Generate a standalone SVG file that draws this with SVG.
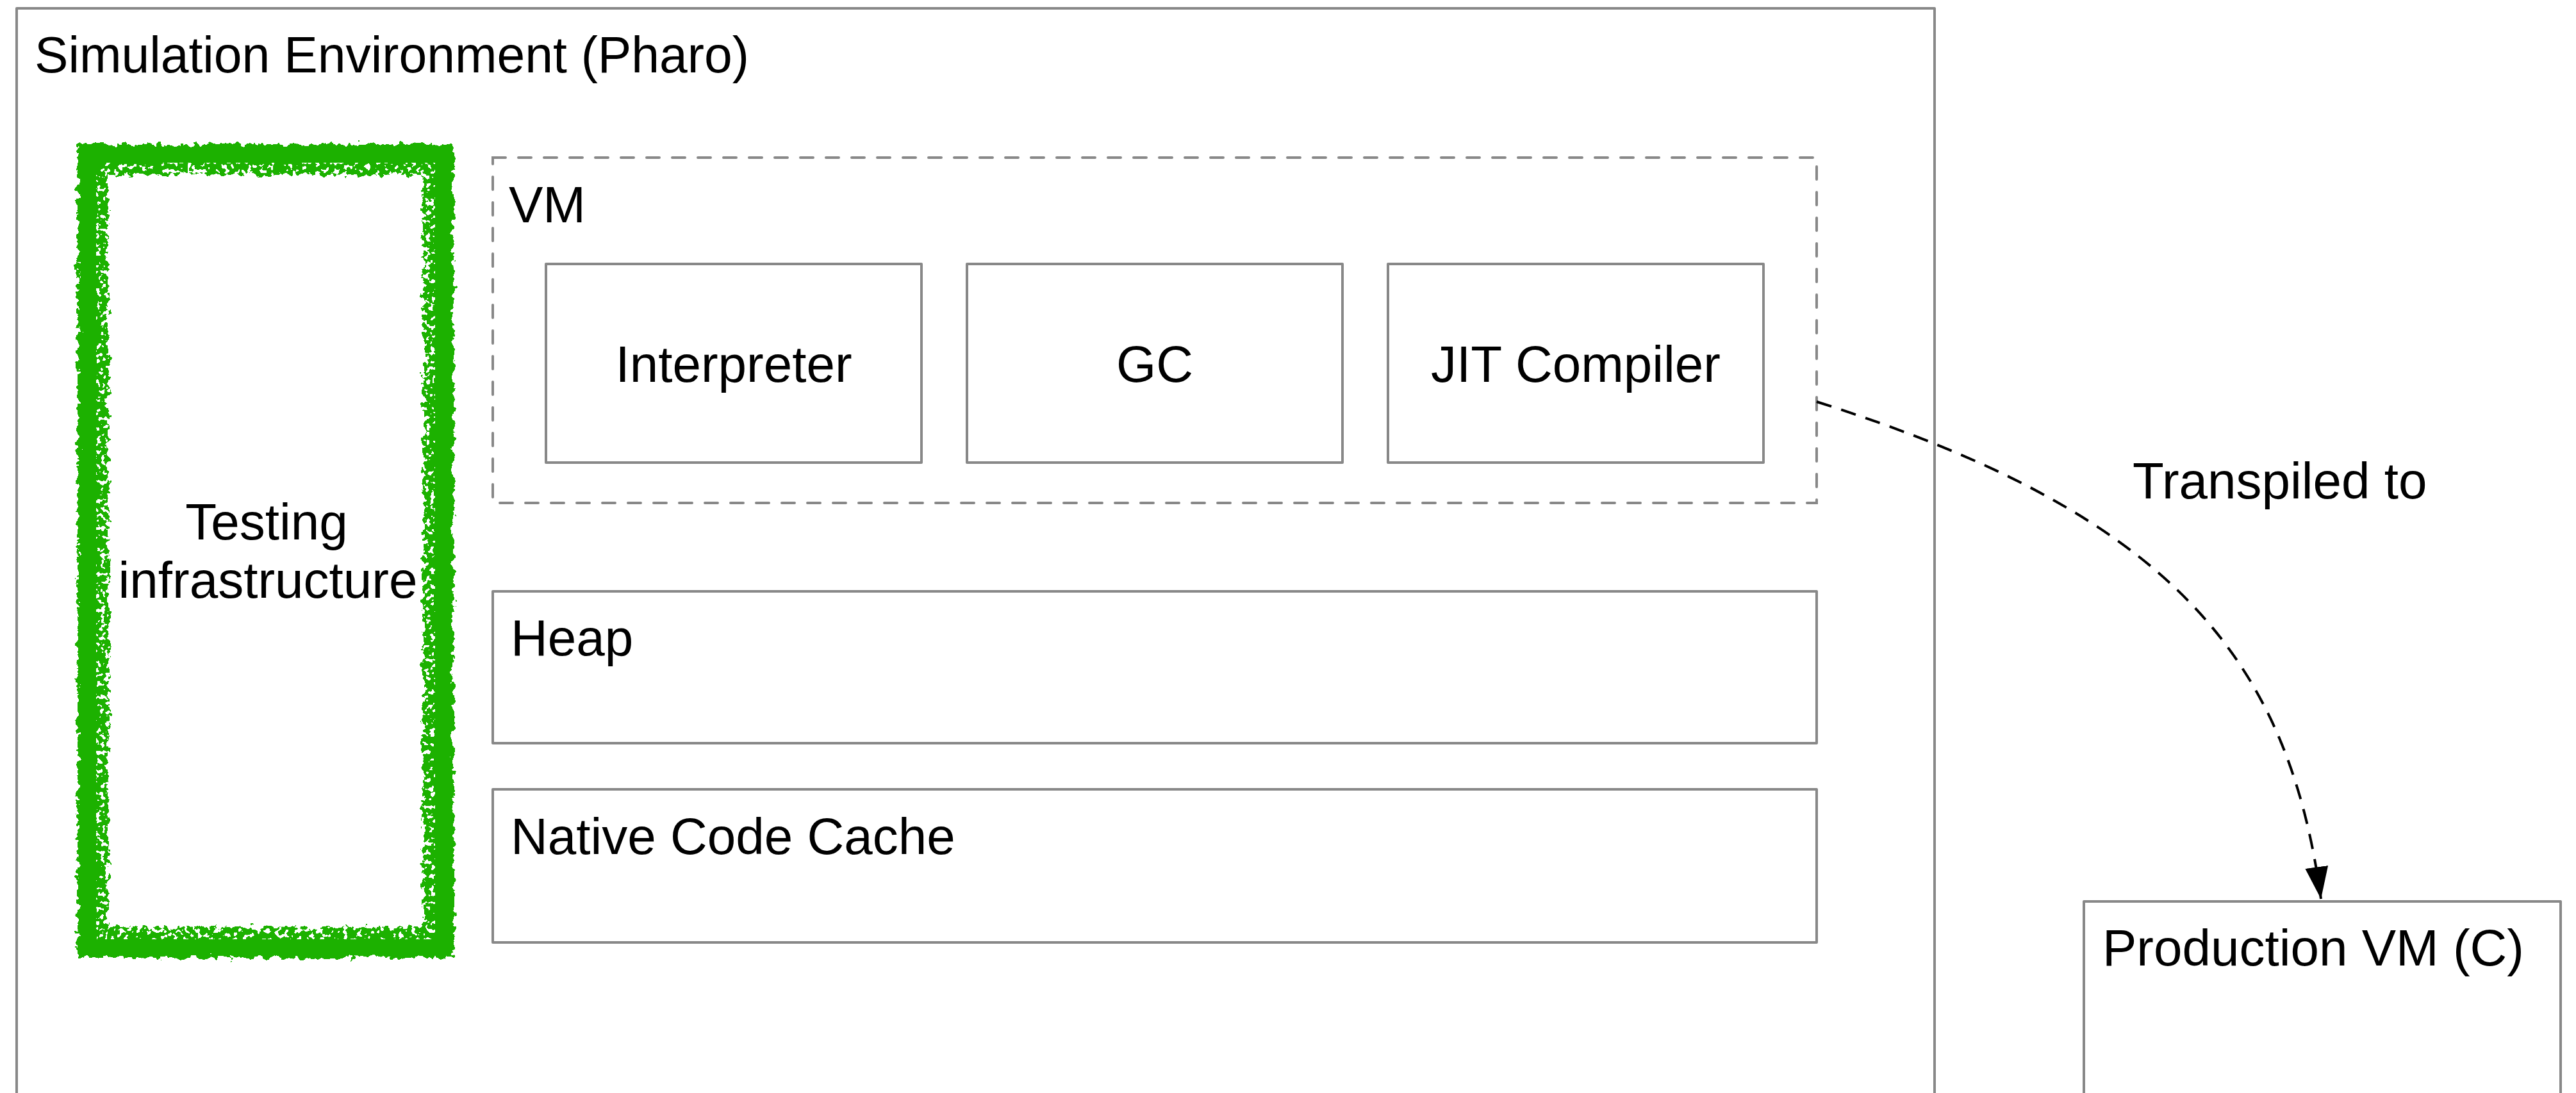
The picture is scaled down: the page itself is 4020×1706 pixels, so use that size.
<svg xmlns="http://www.w3.org/2000/svg" width="4020" height="1706" viewBox="0 0 4020 1706">
  <style>
    .box { fill: #ffffff; stroke: #888888; stroke-width: 4; stroke-linejoin: round; }
    .dashed { fill: none; stroke: #888888; stroke-width: 4; stroke-dasharray: 20 20; stroke-linecap: round; }
    .label { font-family: "Liberation Sans", Arial, Helvetica, sans-serif; font-size: 80px; fill: #000000; }
    .mid { text-anchor: middle; }
    .edge { fill: none; stroke: #000000; stroke-width: 4; stroke-dasharray: 24 16; }
  </style>
  <defs>
    <!-- rough, chalk-like edges for the highlighted box -->
    <filter id="rough" x="-10%" y="-5%" width="120%" height="110%">
      <feTurbulence type="fractalNoise" baseFrequency="0.09" numOctaves="3" seed="4" result="noise"/>
      <feDisplacementMap in="SourceGraphic" in2="noise" scale="18" xChannelSelector="R" yChannelSelector="G"/>
    </filter>
    <!-- small white specks along the inner side of the chalk band -->
    <filter id="specks" x="-10%" y="-5%" width="120%" height="110%">
      <feTurbulence type="fractalNoise" baseFrequency="0.14" numOctaves="2" seed="11" result="n"/>
      <feColorMatrix in="n" type="matrix" values="0 0 0 0 1  0 0 0 0 1  0 0 0 0 1  1 0 0 0 0" result="a"/>
      <feComponentTransfer in="a" result="m">
        <feFuncA type="discrete" tableValues="0 0 0 1 1"/>
      </feComponentTransfer>
      <feComposite in="SourceGraphic" in2="m" operator="in"/>
    </filter>
    <!-- sparser specks on the outer side -->
    <filter id="specks-outer" x="-10%" y="-5%" width="120%" height="110%">
      <feTurbulence type="fractalNoise" baseFrequency="0.12" numOctaves="2" seed="23" result="n"/>
      <feColorMatrix in="n" type="matrix" values="0 0 0 0 1  0 0 0 0 1  0 0 0 0 1  1 0 0 0 0" result="a"/>
      <feComponentTransfer in="a" result="m">
        <feFuncA type="discrete" tableValues="0 0 0 0 0 0 1"/>
      </feComponentTransfer>
      <feComposite in="SourceGraphic" in2="m" operator="in"/>
    </filter>
    <marker id="arrow" markerUnits="userSpaceOnUse" viewBox="0 0 52 38" markerWidth="52" markerHeight="38" refX="50" refY="19" orient="auto">
      <path d="M0,1 L50,19 L0,37 z" fill="#000000"/>
    </marker>
  </defs>

  <!-- Simulation environment container -->
  <g id="simulation-environment">
    <rect class="box" x="26" y="13" width="2993" height="1740"/>
    <text class="label" x="54" y="113" textLength="1115" lengthAdjust="spacingAndGlyphs">Simulation Environment (Pharo)</text>
  </g>

  <!-- Testing infrastructure, outlined with a green chalk stroke -->
  <g id="testing-infrastructure">
    <rect class="box" x="147" y="248" width="538" height="1222"/>
    <rect x="145" y="249" width="539" height="1222" fill="none" stroke="#1db100" stroke-width="48" filter="url(#rough)"/>
    <rect x="161" y="265" width="507" height="1190" fill="none" stroke="#ffffff" stroke-width="22" filter="url(#specks)"/>
    <rect x="126" y="230" width="577" height="1260" fill="none" stroke="#ffffff" stroke-width="10" filter="url(#specks-outer)"/>
    <text class="label mid" x="416" y="842">Testing</text>
    <text class="label mid" x="418" y="933">infrastructure</text>
  </g>

  <!-- VM group with its components -->
  <g id="vm">
    <rect class="dashed" x="769" y="246" width="2066" height="539"/>
    <text class="label" x="794" y="347">VM</text>
  </g>
  <g id="interpreter">
    <rect class="box" x="852" y="412" width="586" height="310"/>
    <text class="label mid" x="1145" y="596">Interpreter</text>
  </g>
  <g id="gc">
    <rect class="box" x="1509" y="412" width="586" height="310"/>
    <text class="label mid" x="1802" y="596">GC</text>
  </g>
  <g id="jit-compiler">
    <rect class="box" x="2166" y="412" width="586" height="310"/>
    <text class="label mid" x="2459" y="596">JIT Compiler</text>
  </g>

  <g id="heap">
    <rect class="box" x="769" y="923" width="2066" height="237"/>
    <text class="label" x="797" y="1023">Heap</text>
  </g>
  <g id="native-code-cache">
    <rect class="box" x="769" y="1232" width="2066" height="239"/>
    <text class="label" x="797" y="1333">Native Code Cache</text>
  </g>

  <g id="production-vm">
    <rect class="box" x="3252" y="1407" width="744" height="400"/>
    <text class="label" x="3281" y="1507">Production VM (C)</text>
  </g>

  <!-- connectors -->
  <g id="connectors">
    <path class="edge" d="M2835,627 C3380,800 3570,1020 3622,1403" marker-end="url(#arrow)"/>
    <text class="label" x="3328" y="778">Transpiled to</text>
  </g>
</svg>
